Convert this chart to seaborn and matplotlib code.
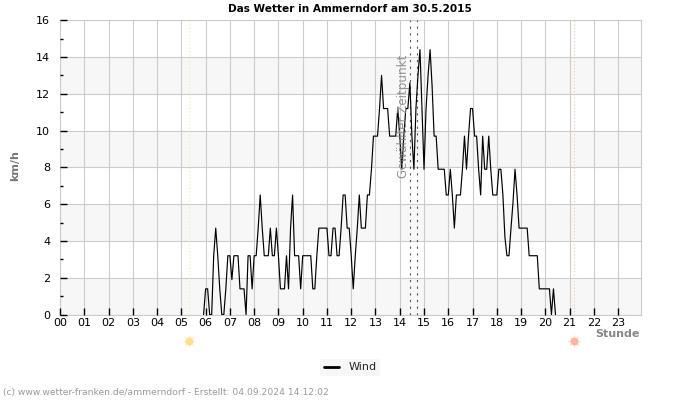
import numpy as np
import pandas as pd
import seaborn as sns
import matplotlib.pyplot as plt

hour_labels = ["%02d" % h for h in range(24)]
band_starts = [0, 4, 8, 12]
sunrise = 5.3
sunset = 21.2
selected_times = [14.43, 14.69]

# 5 minute values in km/h, the series starts at 05:55
wind_05 = [0]
wind_06 = [1.4, 1.4, 0, 0, 3.2, 4.7, 3.2, 1.4, 0, 0, 1.4, 3.2]
wind_07 = [3.2, 1.9, 3.2, 3.2, 3.2, 1.4, 1.4, 1.4, 0, 3.2, 3.2, 1.4]
wind_08 = [3.2, 3.2, 4.7, 6.5, 4.7, 3.2, 3.2, 3.2, 4.7, 3.2, 3.2, 4.7]
wind_09 = [3.2, 1.4, 1.4, 1.4, 3.2, 1.4, 4.7, 6.5, 3.2, 3.2, 3.2, 1.4]
wind_10 = [3.2, 3.2, 3.2, 3.2, 3.2, 1.4, 1.4, 3.2, 4.7, 4.7, 4.7, 4.7]
wind_11 = [4.7, 3.2, 3.2, 4.7, 4.7, 3.2, 3.2, 4.7, 6.5, 6.5, 4.7, 4.7]
wind_12 = [3.2, 1.4, 3.2, 4.7, 6.5, 4.7, 4.7, 4.7, 6.5, 6.5, 7.9, 9.7]
wind_13 = [9.7, 9.7, 11.2, 13, 11.2, 11.2, 11.2, 9.7, 9.7, 9.7, 9.7, 11.2]
wind_14 = [9.7, 7.9, 9.7, 11.2, 11.2, 12.6, 9.7, 7.9, 11.2, 13, 14.4, 11.2]
wind_15 = [7.9, 11.2, 13, 14.4, 12.4, 9.7, 9.7, 7.9, 7.9, 7.9, 7.9, 6.5]
wind_16 = [6.5, 7.9, 6.5, 4.7, 6.5, 6.5, 6.5, 7.9, 9.7, 7.9, 9.7, 11.2]
wind_17 = [11.2, 9.7, 9.7, 7.9, 6.5, 9.7, 7.9, 7.9, 9.7, 7.9, 6.5, 6.5]
wind_18 = [6.5, 7.9, 7.9, 6.5, 4.2, 3.2, 3.2, 4.7, 6.1, 7.9, 6.5, 4.7]
wind_19 = [4.7, 4.7, 4.7, 4.7, 3.2, 3.2, 3.2, 3.2, 3.2, 1.4, 1.4, 1.4]
wind_20 = [1.4, 1.4, 1.4, 0, 1.4, 0]

wind = (wind_05 + wind_06 + wind_07 + wind_08 + wind_09 + wind_10 + wind_11 + wind_12
        + wind_13 + wind_14 + wind_15 + wind_16 + wind_17 + wind_18 + wind_19 + wind_20)

data = pd.DataFrame({"stunde": (5 * 60 + 55 + 5 * np.arange(len(wind))) / 60, "kmh": wind})

sns.set_style("white")
plt.rcParams["font.family"] = "DejaVu Sans"
plt.rcParams["font.size"] = 7

fig = plt.figure(figsize=(7, 4), dpi=100)
ax = fig.add_axes([60 / 700, 1 - 314.6 / 400, 580.5 / 700, 294.4 / 400])

for start in band_starts:
    ax.axhspan(start, start + 2, color="#f7f7f7", lw=0, zorder=0)

ax.grid(True, which="major", color="#cccccc", lw=0.8)
ax.set_axisbelow(False)

ax.axvline(sunrise, color="#f5eb90", lw=0.8, ls=(0, (1, 2)), zorder=3)
ax.axvline(sunset, color="#f5c9a0", lw=0.8, ls=(0, (1, 2)), zorder=3)
for t in selected_times:
    ax.axvline(t, color="#555555", lw=0.8, ls=(0, (2, 4)), zorder=3)

sns.lineplot(data=data, x="stunde", y="kmh", estimator=None, color="black",
             lw=0.85, label="Wind", ax=ax, zorder=4)

ax.text(14.17, 10.75, "Gewählter Zeitpunkt", rotation=90, color="#888888", fontsize=8.6,
        ha="center", va="center", zorder=5, alpha=0.9)

ax.set_xlim(0, 23.92)
ax.set_ylim(0, 16)
ax.set_xticks(range(24), hour_labels)
ax.set_yticks(range(0, 17, 2))
ax.set_yticks(range(1, 16, 2), minor=True)
ax.tick_params(axis="x", direction="in", length=5, width=1, color="black", labelsize=8, pad=2.5, labelcolor="black", bottom=True)
ax.tick_params(axis="y", which="major", direction="in", length=5, width=1, color="black", labelsize=8, pad=7, labelcolor="black", left=True)
ax.tick_params(axis="y", which="minor", direction="in", length=2.5, width=1, color="black", left=True)
ax.set_xlabel("")
ax.set_ylabel("")
for spine in ax.spines.values():
    spine.set_color("#cccccc")
    spine.set_linewidth(0.8)
    spine.set_zorder(2)

# sun symbols below the axis
for t, ray_col, core_col in [(sunrise, "#fdf0c8", "#fde08a"), (sunset, "#ffdcd2", "#ffb3a0")]:
    ax.plot([t], [-1.44], marker=(8, 1, 0), ms=10, color=ray_col, mew=0, clip_on=False, zorder=5)
    ax.plot([t], [-1.44], marker="o", ms=5.5, color=core_col, mew=0, clip_on=False, zorder=5)

fig.text(350 / 700, 1 - 8.5 / 400, "Das Wetter in Ammerndorf am 30.5.2015", fontsize=7.56, fontweight="bold",
         ha="center", va="center", color="black")
fig.text(15 / 700, 1 - 166 / 400, "km/h", rotation=90, fontsize=8, fontweight="bold",
         ha="center", va="center", color="#777777")
fig.text(640 / 700, 1 - 334 / 400, "Stunde", fontsize=8, fontweight="bold",
         ha="right", va="center", color="#888888")
fig.text(3 / 700, 1 - 393 / 400, "(c) www.wetter-franken.de/ammerndorf - Erstellt: 04.09.2024 14:12:02",
         fontsize=6.6, ha="left", va="center", color="#999999")

leg = ax.legend(loc="center", bbox_to_anchor=(350 / 700, 1 - 367.5 / 400), bbox_transform=fig.transFigure,
                frameon=True, facecolor="#f7f7f7", edgecolor="none", fancybox=False, fontsize=8,
                handlelength=1.4, handletextpad=0.8, borderpad=0.35, framealpha=1)
leg.get_lines()[0].set_linewidth(2)

fig.savefig("out.png", dpi=100)
